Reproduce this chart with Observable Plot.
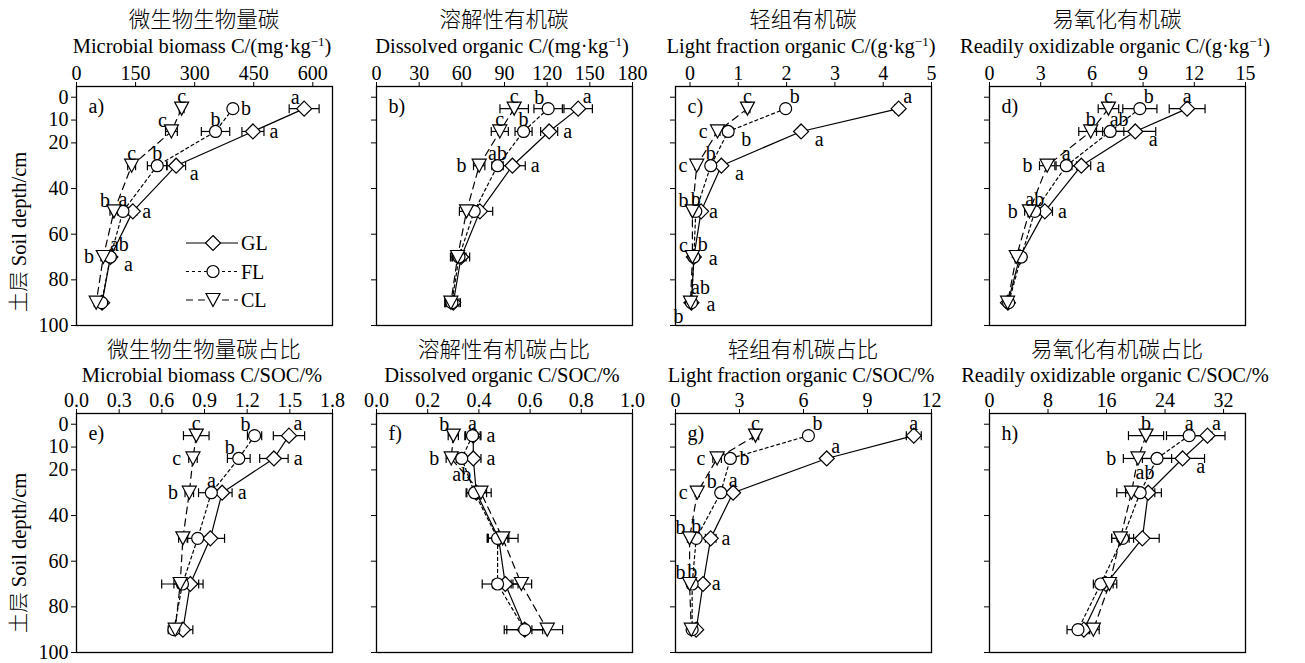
<!DOCTYPE html>
<html>
<head>
<meta charset="utf-8">
<script src="https://cdn.jsdelivr.net/npm/d3@7"></script>
<script src="https://cdn.jsdelivr.net/npm/@observablehq/plot@0.6"></script>
<style>
  body { margin: 0; background: #fff; }
  #root { position: relative; width: 1305px; height: 663px; overflow: hidden; font-family: "Liberation Serif", "Times New Roman", serif; color: #000; }
  #root svg { overflow: visible !important; }
  #root svg, #root svg text, #root svg g { font-family: "Liberation Serif", "Times New Roman", serif !important; }
  .panel { position: absolute; }
  .zh { position: absolute; font-family: "Noto Sans CJK SC", sans-serif; font-size: 21.5px; white-space: nowrap; transform: translate(-50%, -50%); line-height: 1; font-weight: 300; }
  .en { position: absolute; font-family: "Liberation Serif", "Times New Roman", serif; font-size: 20.5px; white-space: nowrap; transform: translate(-50%, -50%); line-height: 1; }
  .en sup { font-size: 13px; vertical-align: 7px; line-height: 0; }
  .ylab { position: absolute; font-family: "Liberation Serif", "Times New Roman", serif; font-size: 20.5px; white-space: nowrap; transform: translate(-50%, -50%) rotate(-90deg); line-height: 1; }
  .ylab .cjk { font-family: "Noto Sans CJK SC", sans-serif; font-weight: 300; }
</style>
</head>
<body>
<div id="root"></div>
<script>
// ---------------- data ----------------
const depths = [5, 15, 30, 50, 70, 90];
const seriesNames = ["GL", "FL", "CL"];
const depthTicks = [0, 10, 20, 40, 60, 80, 100];

const panelIds = ["a", "b", "c", "d", "e", "f", "g", "h"];
const titlesZh = ["微生物生物量碳", "溶解性有机碳", "轻组有机碳", "易氧化有机碳",
  "微生物生物量碳占比", "溶解性有机碳占比", "轻组有机碳占比", "易氧化有机碳占比"];
const titlesEn = ["Microbial biomass C/(mg·kg<sup>−1</sup>)", "Dissolved organic C/(mg·kg<sup>−1</sup>)",
  "Light fraction organic C/(g·kg<sup>−1</sup>)", "Readily oxidizable organic C/(g·kg<sup>−1</sup>)",
  "Microbial biomass C/SOC/%", "Dissolved organic C/SOC/%", "Light fraction organic C/SOC/%",
  "Readily oxidizable organic C/SOC/%"];
const xTicksA = [0, 150, 300, 450, 600];
const xTicksB = [0, 30, 60, 90, 120, 150, 180];
const xTicksC = [0, 1, 2, 3, 4, 5];
const xTicksD = [0, 3, 6, 9, 12, 15];
const xTicksE = [0, 0.3, 0.6, 0.9, 1.2, 1.5, 1.8];
const xTicksF = [0, 0.2, 0.4, 0.6, 0.8, 1.0];
const xTicksG = [0, 3, 6, 9, 12];
const xTicksH = [0, 8, 16, 24, 32];
const xMin = [0, 0, -0.3, 0, 0, 0, 0, 0];
const xMax = [650, 180, 5, 15, 1.8, 1.0, 12, 35];

// a) microbial biomass C (mg/kg)
const mbcGL = [578, 448, 253, 143, 86, 65],   mbcGLse = [38, 28, 24, 10, 8, 6];
const mbcFL = [397, 353, 205, 118, 86, 64],   mbcFLse = [8, 36, 25, 8, 8, 5];
const mbcCL = [267, 241, 140, 95, 68, 50],    mbcCLse = [6, 15, 10, 10, 6, 5];
const mbcGLsig = ["a", "a", "a", "a", "a", ""], mbcFLsig = ["b", "b", "b", "a", "ab", ""], mbcCLsig = ["c", "c", "c", "b", "b", ""];
const mbcGLside = ["nw", "e", "se", "e", "se", ""], mbcFLside = ["e", "n", "n", "n", "ne", ""], mbcCLside = ["n", "nw", "n", "nw", "w", ""];

// b) dissolved organic C (mg/kg)
const docGL = [141.8, 121.4, 95.6, 72.7, 59.5, 54],  docGLse = [10, 6, 9, 9, 6, 5];
const docFL = [120.7, 103.4, 85.1, 68.7, 58, 53],    docFLse = [10, 6, 4, 6, 5, 5];
const docCL = [96.8, 86.7, 72.2, 63.3, 57, 52.3],    docCLse = [10, 6, 4, 5, 5, 4];
const docGLsig = ["a", "a", "a", "", "", ""], docFLsig = ["b", "b", "ab", "", "", ""], docCLsig = ["c", "c", "b", "", "", ""];
const docGLside = ["ne", "e", "e", "", "", ""], docFLside = ["nw", "n", "n", "", "", ""], docCLside = ["n", "n", "w", "", "", ""];

// c) light fraction organic C (g/kg)
const lfcGL = [4.32, 2.30, 0.65, 0.23, 0.08, 0.03], lfcGLse = [0.08, 0.06, 0.05, 0.05, 0.03, 0.03];
const lfcFL = [1.98, 0.79, 0.43, 0.12, 0.08, 0.03], lfcFLse = [0.06, 0.10, 0.05, 0.03, 0.03, 0.02];
const lfcCL = [1.19, 0.57, 0.14, 0.05, 0.05, 0.01], lfcCLse = [0.05, 0.05, 0.04, 0.03, 0.03, 0.02];
const lfcGLsig = ["a", "a", "a", "a", "a", "a"], lfcFLsig = ["b", "b", "b", "b", "b", "ab"], lfcCLsig = ["c", "c", "c", "b", "c", "b"];
const lfcGLside = ["ne", "se", "se", "e", "ee", "ee"], lfcFLside = ["ne", "se", "n", "n", "ne", "nne"], lfcCLside = ["n", "w", "w", "nw", "nw", "sw"];

// d) readily oxidizable organic C (g/kg)
const rocGL = [11.58, 8.54, 5.38, 3.24, 1.77, 1.08], rocGLse = [1.05, 1.2, 0.55, 0.45, 0.12, 0.08];
const rocFL = [8.81, 7.07, 4.50, 2.65, 1.86, 1.12],  rocFLse = [1.0, 0.8, 0.6, 0.3, 0.12, 0.08];
const rocCL = [6.97, 5.93, 3.38, 2.34, 1.57, 1.06],  rocCLse = [0.6, 0.7, 0.45, 0.28, 0.1, 0.08];
const rocGLsig = ["a", "a", "a", "a", "", ""], rocFLsig = ["b", "ab", "a", "ab", "", ""], rocCLsig = ["c", "b", "b", "b", "", ""];
const rocGLside = ["n", "se", "e", "e", "", ""], rocFLside = ["ne", "ne", "n", "n", "", ""], rocCLside = ["n", "n", "w", "w", "", ""];

// e) microbial biomass C / SOC (%)
const mbrGL = [1.494, 1.388, 1.024, 0.941, 0.80, 0.748], mbrGLse = [0.11, 0.10, 0.07, 0.10, 0.09, 0.07];
const mbrFL = [1.252, 1.141, 0.948, 0.852, 0.745, 0.685], mbrFLse = [0.05, 0.08, 0.09, 0.07, 0.06, 0.04];
const mbrCL = [0.842, 0.819, 0.793, 0.748, 0.729, 0.694], mbrCLse = [0.09, 0.03, 0.03, 0.03, 0.13, 0.03];
const mbrGLsig = ["a", "a", "a", "", "", ""], mbrFLsig = ["b", "b", "a", "", "", ""], mbrCLsig = ["c", "c", "b", "", "", ""];
const mbrGLside = ["ne", "e", "e", "", "", ""], mbrFLside = ["nw", "nw", "n", "", "", ""], mbrCLside = ["n", "w", "w", "", "", ""];

// f) dissolved organic C / SOC (%)
const dorGL = [0.378, 0.378, 0.390, 0.477, 0.503, 0.579], dorGLse = [0.03, 0.03, 0.04, 0.04, 0.05, 0.07];
const dorFL = [0.375, 0.333, 0.383, 0.473, 0.473, 0.579], dorFLse = [0.03, 0.04, 0.03, 0.04, 0.06, 0.08];
const dorCL = [0.300, 0.292, 0.408, 0.493, 0.566, 0.667], dorCLse = [0.02, 0.02, 0.04, 0.06, 0.04, 0.06];
const dorGLsig = ["a", "a", "", "", "", ""], dorFLsig = ["a", "ab", "", "", "", ""], dorCLsig = ["b", "b", "", "", "", ""];
const dorGLside = ["e", "e", "", "", "", ""], dorFLside = ["n", "s", "", "", "", ""], dorCLside = ["nw", "w", "", "", "", ""];

// g) light fraction organic C / SOC (%)
const lfrGL = [11.17, 7.09, 2.70, 1.65, 1.29, 0.97], lfrGLse = [0.35, 0.15, 0.15, 0.25, 0.15, 0.1];
const lfrFL = [6.23, 2.57, 2.12, 0.97, 0.78, 0.78],  lfrFLse = [0.15, 0.2, 0.15, 0.15, 0.1, 0.1];
const lfrCL = [3.75, 1.95, 1.02, 0.66, 0.66, 0.74],  lfrCLse = [0.15, 0.2, 0.1, 0.1, 0.1, 0.1];
const lfrGLsig = ["a", "a", "a", "a", "a", ""], lfrFLsig = ["b", "b", "b", "b", "b", ""], lfrCLsig = ["c", "c", "c", "b", "b", ""];
const lfrGLside = ["n", "ne", "n", "e", "e", ""], lfrFLside = ["ne", "e", "nw", "n", "n", ""], lfrCLside = ["n", "w", "w", "nw", "nw", ""];

// h) readily oxidizable organic C / SOC (%)
const rorGL = [29.8, 26.4, 21.7, 20.9, 15.9, 12.9], rorGLse = [2.4, 3.0, 1.8, 2.3, 1.0, 0.8];
const rorFL = [27.3, 22.9, 20.6, 18.2, 15.2, 12.1], rorFLse = [3.1, 2.0, 2.0, 1.5, 1.0, 1.5];
const rorCL = [21.4, 20.3, 19.4, 17.9, 16.4, 14.2], rorCLse = [2.4, 2.0, 2.0, 1.2, 1.0, 0.8];
const rorGLsig = ["a", "a", "", "", "", ""], rorFLsig = ["a", "ab", "", "", "", ""], rorCLsig = ["b", "b", "", "", "", ""];
const rorGLside = ["ne", "se", "", "", "", ""], rorFLside = ["n", "sw", "", "", "", ""], rorCLside = ["n", "w", "", "", "", ""];

// ---------------- assembly ----------------
const panels = [
  {ticks: xTicksA, fmt: d => d, v: [mbcGL, mbcFL, mbcCL], e: [mbcGLse, mbcFLse, mbcCLse], s: [mbcGLsig, mbcFLsig, mbcCLsig], p: [mbcGLside, mbcFLside, mbcCLside]},
  {ticks: xTicksB, fmt: d => d, v: [docGL, docFL, docCL], e: [docGLse, docFLse, docCLse], s: [docGLsig, docFLsig, docCLsig], p: [docGLside, docFLside, docCLside]},
  {ticks: xTicksC, fmt: d => d, v: [lfcGL, lfcFL, lfcCL], e: [lfcGLse, lfcFLse, lfcCLse], s: [lfcGLsig, lfcFLsig, lfcCLsig], p: [lfcGLside, lfcFLside, lfcCLside]},
  {ticks: xTicksD, fmt: d => d, v: [rocGL, rocFL, rocCL], e: [rocGLse, rocFLse, rocCLse], s: [rocGLsig, rocFLsig, rocCLsig], p: [rocGLside, rocFLside, rocCLside]},
  {ticks: xTicksE, fmt: d3.format(".1f"), v: [mbrGL, mbrFL, mbrCL], e: [mbrGLse, mbrFLse, mbrCLse], s: [mbrGLsig, mbrFLsig, mbrCLsig], p: [mbrGLside, mbrFLside, mbrCLside]},
  {ticks: xTicksF, fmt: d3.format(".1f"), v: [dorGL, dorFL, dorCL], e: [dorGLse, dorFLse, dorCLse], s: [dorGLsig, dorFLsig, dorCLsig], p: [dorGLside, dorFLside, dorCLside]},
  {ticks: xTicksG, fmt: d => d, v: [lfrGL, lfrFL, lfrCL], e: [lfrGLse, lfrFLse, lfrCLse], s: [lfrGLsig, lfrFLsig, lfrCLsig], p: [lfrGLside, lfrFLside, lfrCLside]},
  {ticks: xTicksH, fmt: d => d, v: [rorGL, rorFL, rorCL], e: [rorGLse, rorFLse, rorCLse], s: [rorGLsig, rorFLsig, rorCLsig], p: [rorGLside, rorFLside, rorCLside]}
];

// ---------------- styling ----------------
const frameLefts = [76, 376, 675, 989];
const rowTops = [0, 327];
const frameW = 256, frameH = 239, mTop = 86, mBottom = 6, mRight = 22;
const dash = {GL: null, FL: "3,3", CL: "7,5"};
const sideOffsets = {n: [0, -12], s: [0, 16], ne: [9, -12], nne: [9, -15], nw: [-9, -11], e: [10, 0], ee: [18, 2], w: [-12, 0], se: [18, 8], sw: [-12, 14]};
const hiSides = new Set(["e", "ee"]), loSides = new Set(["w"]);

const diamondSym = {draw(c) { const h = 7.5; c.moveTo(0, -h); c.lineTo(h, 0); c.lineTo(0, h); c.lineTo(-h, 0); c.closePath(); }};
const circleSym = {draw(c) { const r = 6; c.moveTo(r, 0); c.arc(0, 0, r, 0, 2 * Math.PI); c.closePath(); }};
const triDownSym = {draw(c) { const w = 7, h = 6.5; c.moveTo(-w, -h); c.lineTo(w, -h); c.lineTo(0, h); c.closePath(); }};
const capSym = {draw(c) { c.moveTo(0, -4.5); c.lineTo(0, 4.5); }};
const symbols = {GL: diamondSym, FL: circleSym, CL: triDownSym};
const serif = '"Liberation Serif", "Times New Roman", serif';

const root = document.getElementById("root");

panels.forEach((pn, k) => {
  const col = k % 4, row = Math.floor(k / 4);
  const rows = [];
  seriesNames.forEach((s, si) => {
    depths.forEach((d, i) => rows.push({s, d, v: pn.v[si][i], e: pn.e[si][i], sig: pn.s[si][i], side: pn.p[si][i]}));
  });
  const mL = col === 0 ? 76 : 40;
  const marks = [];
  for (const s of seriesNames) {
    marks.push(Plot.line(rows.filter(r => r.s === s), {x: "v", y: "d", stroke: "#000", strokeWidth: 1.2, strokeDasharray: dash[s]}));
  }
  marks.push(Plot.link(rows, {x1: r => r.v - r.e, x2: r => r.v + r.e, y1: "d", y2: "d", stroke: "#000", strokeWidth: 1.2}));
  marks.push(Plot.dot(rows, {x: r => r.v - r.e, y: "d", symbol: capSym, r: 4, fill: "none", stroke: "#000", strokeWidth: 1.2}));
  marks.push(Plot.dot(rows, {x: r => r.v + r.e, y: "d", symbol: capSym, r: 4, fill: "none", stroke: "#000", strokeWidth: 1.2}));
  for (const s of seriesNames) {
    marks.push(Plot.dot(rows.filter(r => r.s === s), {x: "v", y: "d", symbol: symbols[s], r: 6, fill: "white", stroke: "#000", strokeWidth: 1.2}));
  }
  for (const [code, [dx, dy]] of Object.entries(sideOffsets)) {
    const lab = rows.filter(r => r.sig && r.side === code);
    if (!lab.length) continue;
    marks.push(Plot.text(lab, {
      x: r => hiSides.has(code) ? r.v + r.e : loSides.has(code) ? r.v - r.e : r.v,
      y: "d", text: "sig", dx, dy, fill: "#000", fontSize: 20, fontFamily: serif
    }));
  }
  marks.push(Plot.text([panelIds[k] + ")"], {text: d => d, frameAnchor: "top-left", dx: 12, dy: 12, fontSize: 20, fontFamily: serif, fill: "#000"}));
  marks.push(Plot.frame({stroke: "#000", strokeWidth: 1.3}));

  const svg = Plot.plot({
    width: mL + frameW + mRight,
    height: mTop + frameH + mBottom,
    marginLeft: mL, marginRight: mRight, marginTop: mTop, marginBottom: mBottom,
    style: {background: "transparent", fontFamily: serif, fontSize: "20px", color: "#000", overflow: "visible"},
    x: {domain: [xMin[k], xMax[k]], axis: "top", ticks: pn.ticks, tickFormat: pn.fmt, tickSize: 5, tickPadding: 2, label: null},
    y: {domain: [-4.7, 100], reverse: true, ticks: depthTicks, tickSize: 5, tickPadding: 3,
        tickFormat: col === 0 ? (d => d) : (() => ""), label: null},
    marks
  });
  svg.classList.add("panel");
  svg.setAttribute("font-family", serif);
  svg.style.left = (frameLefts[col] - mL) + "px";
  svg.style.top = rowTops[row] + "px";
  svg.style.maxWidth = "none";
  root.appendChild(svg);

  const cx = frameLefts[col] + frameW / 2;
  const zh = document.createElement("div");
  zh.className = "zh"; zh.textContent = titlesZh[k];
  zh.style.left = cx + "px"; zh.style.top = (rowTops[row] + (row ? 21 : 18)) + "px";
  root.appendChild(zh);
  const en = document.createElement("div");
  en.className = "en"; en.innerHTML = titlesEn[k];
  en.style.left = (cx - 2) + "px"; en.style.top = (rowTops[row] + (row ? 48 : 46)) + "px";
  root.appendChild(en);
});

// y-axis labels
for (const cy of [232, 553]) {
  const yl = document.createElement("div");
  yl.className = "ylab";
  yl.innerHTML = '<span class="cjk">土层</span> Soil depth/cm';
  yl.style.left = "18px"; yl.style.top = cy + "px";
  root.appendChild(yl);
}

// legend (inside panel a)
const leg = d3.select(root).append("svg")
  .attr("width", 120).attr("height", 90)
  .style("position", "absolute").style("left", "180px").style("top", "225px");
seriesNames.forEach((s, i) => {
  const y = 18 + i * 28.5;
  const g = leg.append("g");
  g.append("line").attr("x1", 6).attr("x2", 58).attr("y1", y).attr("y2", y)
    .attr("stroke", "#000").attr("stroke-width", 1.2).attr("stroke-dasharray", dash[s]);
  const path = d3.path();
  symbols[s].draw(path);
  g.append("path").attr("d", path.toString()).attr("transform", `translate(33,${y})`)
    .attr("fill", "white").attr("stroke", "#000").attr("stroke-width", 1.2);
  g.append("text").attr("x", 61).attr("y", y).attr("dy", "0.35em")
    .attr("font-family", serif).attr("font-size", 20).text(s);
});
</script>
</body>
</html>
